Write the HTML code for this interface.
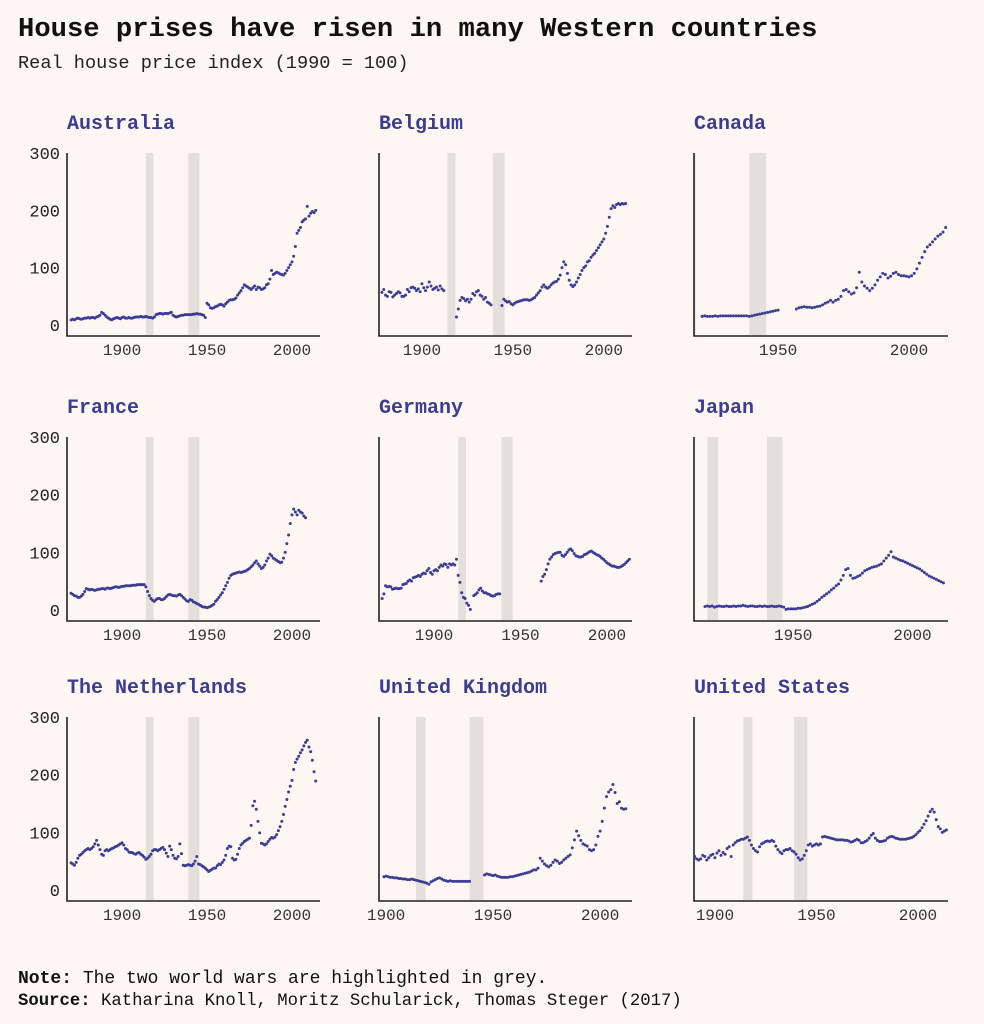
<!DOCTYPE html>
<html><head><meta charset="utf-8">
<style>
html,body{margin:0;padding:0;background:#fdf6f3;}
body{width:984px;height:1024px;overflow:hidden;position:relative;font-family:"Liberation Mono",monospace;}
#chart{position:absolute;left:0;top:0;}
</style></head>
<body>
<svg id="chart" width="984" height="1024" viewBox="0 0 984 1024" xmlns="http://www.w3.org/2000/svg">
<text x="18" y="36" font-family="Liberation Mono, monospace" font-weight="bold" font-size="27.2" fill="#111">House prises have risen in many Western countries</text>
<text x="18" y="68" font-family="Liberation Mono, monospace" font-size="18.6" fill="#222">Real house price index (1990 = 100)</text>
<text x="18" y="983" font-family="Liberation Mono, monospace" font-size="18" fill="#111"><tspan font-weight="bold">Note:</tspan> The two world wars are highlighted in grey.</text>
<text x="18" y="1005" font-family="Liberation Mono, monospace" font-size="17.3" fill="#111"><tspan font-weight="bold">Source:</tspan> Katharina Knoll, Moritz Schularick, Thomas Steger (2017)</text>
<g id="panels"></g>
</svg>
<script>
const countries = ["Australia","Belgium","Canada","France","Germany","Japan","The Netherlands","United Kingdom","United States"];
const startYears = [1870,1878,1921,1870,1870,1913,1870,1899,1890];
const yTicks = [0,100,200,300];
const wars = [[1914,1918],[1939,1945]];
const N = null;

const australia = [9,10,9,11,12,11,10,11,12,12, 13,12,13,13,12,14,15,17,22,20, 17,14,12,10,9,11,12,13,12,11,
13,14,12,12,13,12,12,13,14,14, 14,15,14,14,15,14,13,13,12,14, 18,19,20,20,19,20,20,20,21,22,
17,15,14,15,16,17,17,18,18,18, 18,18,19,19,20,19,19,18,17,13, 38,35,30,29,30,32,33,35,36,35,
33,37,40,43,44,44,45,47,52,56, 60,65,70,68,66,64,62,65,68,62, 66,65,62,63,65,70,72,80,95,88,
90,92,91,89,88,87,90,95,100,105, 110,120,137,160,165,170,180,183,185,207, 190,195,198,196,200];

const belgium = [57,62,52,50,58,57,49,52,55,58,56,50, 50,52,62,58,65,66,64,60,63,58, 72,65,60,66,75,68,62,64,66,61,68,63,60,
N,N,N,N,N,N, 14,28,43,48,46,42,45,40,45,55, 52,58,60,52,50,45,48,40,38,35,
N,N,N,N,N, 34,45,42,40,41,37,35,38,40,41,42,43,44,44,44,
43,44,46,48,52,56,60,66,70,66, 64,66,70,73,75,76,80,87,100,110, 105,90,78,70,67,70,75,82,88,95,
100,103,110,112,118,122,125,130,135,140, 145,150,160,172,188,203,208,205,210,212, 210,212,211,212];

const canada = [15,16,15,15,15,16,15,16,16,16,16,16,16,16,16,16,16,16,15,
16,17,18,19,20,21,22,23,24,25,26, N,N,N,N,N,N,
28,30,31,32,31,31,30,31,32,33,35,38,40,43, 40,43,45,50,60,62,58,54,56,65,
92,75,68,64,60,64,70,78,84,90, 88,82,85,90,92,88,86,86,85,84, 86,90,98,108,118,128,136,140,145,150, 155,158,162,170];

const france = [29,27,25,24,22,22,24,27,32,37, 36,35,36,35,34,35,36,36,37,37, 36,38,38,37,38,39,40,40,39,40,
41,41,42,42,42,42,43,43,43,44, 44,44,44,44,40,32,25,20,17,15, 18,20,20,18,18,20,23,26,27,26,
25,25,24,26,27,25,22,19,16,15, 18,17,14,13,11,10,8,6,5,5, 4,5,6,8,10,15,18,22,26,30,
36,42,48,55,60,62,63,64,65,66, 65,66,67,68,70,72,75,78,82,85, 80,76,72,74,78,85,90,97,94,90,
88,86,84,82,83,90,100,115,130,150, 165,175,170,165,173,170,168,163,160];

const germany = [20,28,42,40,41,40,36,37,38,37, 37,38,44,45,46,50,52,50,56,57, 58,60,58,62,64,63,68,72,65,62,
68,70,68,74,78,76,80,79,74,80, 78,80,78,88,60,48,30,22,20,12, 8,1,N,25,27,30,35,38,33,30,
30,28,27,25,24,25,27,28,28,N, N,N,N,N,N,N,N,N,N,N, N,N,N,N,N,N,N,N,N,N,
N,N,50,58,62,70,80,88,92,96, 98,99,100,100,95,93,96,100,104,106, 103,98,94,93,92,92,93,96,97,99,
101,102,100,98,96,95,93,90,88,85, 82,80,78,76,76,75,74,74,75,77, 79,82,85,88];

const japan = [6,7,6,7,5,6,7,6,6,7, 6,6,7,6,7,7,8,7,6,7, 7,6,6,7,6,7,6,6,7,6, 6,7,6,5,
1,2,2,2,2,3,3, 4,5,6,8,10,12,15,18,22,25, 28,31,35,38,42,45,52,60,70,72,
60,55,56,58,60,64,68,70,72,74, 75,76,78,80,85,90,95,101,92,90,
88,86,85,83,81,79,77,75,73,71, 68,65,62,59,57,55,53,51,49,47];

const netherlands = [47,45,43,48,55,60,62,65,68,70, 72,70,72,75,80,86,78,70,62,60, 68,70,68,70,72,73,75,76,78,80,
82,78,72,70,66,65,65,63,62,64, 65,62,60,57,53,55,58,62,68,70, 70,68,70,72,74,70,64,58,76,70,
60,55,54,58,80,63,43,42,43,44, 43,42,45,50,58,45,44,42,40,38, 35,32,34,36,38,38,42,45,44,48,
52,60,72,76,75,55,52,53,62,72, 78,81,84,86,88,90,112,146,154,140, 119,99,81,80,78,80,84,88,91,90,
92,96,103,110,119,131,145,157,170,180, 190,209,221,227,232,238,243,250,256,260, 248,240,225,205,189];

const uk = [23,24,23,22,22,21,21,20,20,19, 19,18,18,19,18,17,16,15,14,13, 12,10,14,16,18,20,21,19,17,16,
15,16,15,15,15,15,15,15,15,15, 15,N,N,N,N,N,N, 26,28,27,26,25,26,24,23,22,22,
22,22,23,23,24,25,26,27,28,29, 30,31,33,35,35,38,55,50,45,42, 40,43,48,52,50,46,48,52,55,58,
61,73,87,102,94,86,80,78,76,70, 68,70,78,93,102,119,142,162,170,174, 183,169,150,153,142,140,141];

const us = [58,54,52,54,60,58,52,56,60,62, 56,64,68,60,65,62,72,75,58,78, 82,85,86,88,88,90,92,86,78,72,
68,66,75,80,82,84,85,84,86,84, 76,70,66,63,68,70,70,72,68,66, 62,56,52,54,60,68,78,80,76,78,
80,78,80,92,93,92,91,90,89,88, 87,87,87,87,86,86,85,83,84,86, 88,86,82,82,84,86,90,95,98,90,
86,84,84,85,86,90,92,93,92,90, 89,88,88,88,88,89,90,91,93,96, 100,103,108,114,120,128,136,140,135,122,
110,106,100,102,104];

const seriesList = [australia,belgium,canada,france,germany,japan,netherlands,uk,us];
const domainStart = [1867.6,1876.4,1917.9,1867.6,1868.2,1908.4,1867.6,1896.7,1889.7];
const domainEnd   = [2016.5,2015.5,2014.9,2016.5,2014.5,2014.9,2016.5,2014.9,2014.8];
const xTickSets = [[1900,1950,2000],[1900,1950,2000],[1950,2000],[1900,1950,2000],[1900,1950,2000],[1950,2000],[1900,1950,2000],[1900,1950,2000],[1900,1950,2000]];

const NS = "http://www.w3.org/2000/svg";
const colL = [67,379,694], colR = [320,632,948];
const rowTop = [153,437,717], rowZero = [325,610,890];
const root = document.getElementById('panels');
function mk(tag, attrs, parent){const e=document.createElementNS(NS,tag);for(const k in attrs)e.setAttribute(k,attrs[k]);parent.appendChild(e);return e;}

countries.forEach((name,i)=>{
  const c=i%3, r=Math.floor(i/3);
  const L=colL[c], R=colR[c], T=rowTop[r], Z=rowZero[r], B=Z+11;
  const d0=domainStart[i], d1=domainEnd[i];
  const x = yr => L + (yr-d0)/(d1-d0)*(R-L);
  const y = v => Z - v/300*(Z-T);
  const g = mk('g',{},root);
  
  
  const cp = mk('clipPath',{id:'cp'+i},g);
  mk('rect',{x:L,y:T,width:R-L,height:B-T},cp);
  wars.forEach(w=>{
    const rect = mk('rect',{x:x(w[0]),y:T,width:x(w[1]+0.5)-x(w[0]),height:B-T-1,fill:'#e4dfda','clip-path':'url(#cp'+i+')'},g);
    
    
  });
  const t = mk('text',{x:L,y:T-24,'font-family':'Liberation Mono, monospace','font-weight':'bold','font-size':'20',fill:'#3b3d92'},g);
  t.textContent=name;
  
  
  const ax = mk('path',{d:`M${L} ${T} L${L} ${B} L${R} ${B}`,fill:'none',stroke:'#222','stroke-width':1.6},g);
  
  
  if(c===0){
    yTicks.forEach(v=>{
      const tl = mk('text',{x:L-7,y:y(v)+6,'text-anchor':'end','font-family':'Liberation Mono, monospace','font-size':'17',fill:'#222'},g);
      tl.textContent=v;
      
      
    });
  }
  xTickSets[i].forEach(yr=>{
    const tl = mk('text',{x:x(yr),y:B+19,'text-anchor':'middle','font-family':'Liberation Mono, monospace','font-size':'16',fill:'#333'},g);
    tl.textContent=yr;
    
    
  });
  const s = seriesList[i];
  s.forEach((v,k)=>{
    if(v===null) return;
    const dot = mk('circle',{cx:x(startYears[i]+k),cy:y(v),r:1.5,fill:'#3b3d96'},g);
    
    
  });
});
</script>
</body></html>
